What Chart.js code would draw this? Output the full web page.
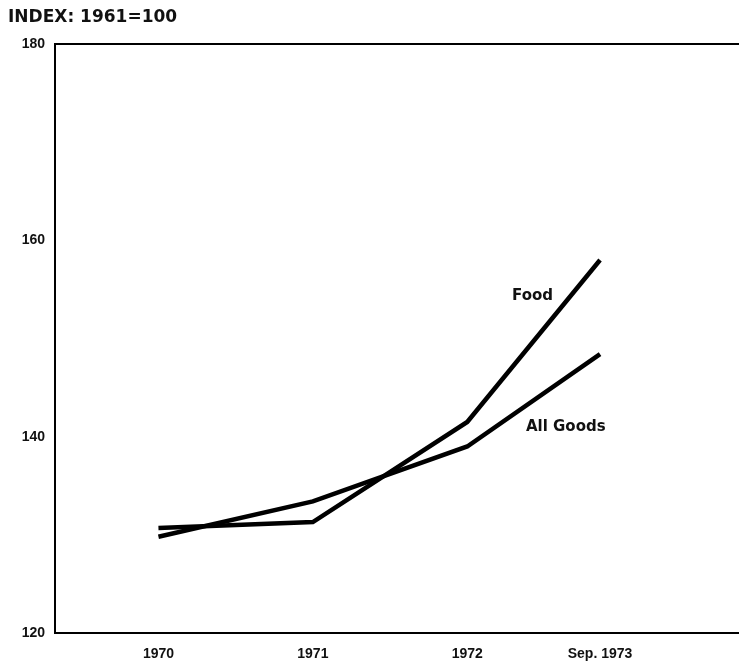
<!DOCTYPE html>
<html>
<head>
<meta charset="utf-8">
<script src="https://cdn.jsdelivr.net/npm/chart.js@4/dist/chart.umd.min.js"></script>
<style>
  html, body { margin: 0; padding: 0; background: #fff; }
  #wrap { width: 739px; height: 666px; position: relative; }
</style>
</head>
<body>
<div id="wrap"><canvas id="c" width="739" height="666"></canvas></div>
<script>
// x positions in years (Sep. 1973 sits short of a full year past 1972)
var xYears = [1970, 1971, 1972, 1972.86];
var xLabels = ['1970', '1971', '1972', 'Sep. 1973'];
var foodValues = [130.7, 131.3, 141.5, 158.0];
var allGoodsValues = [129.8, 133.4, 139.0, 148.4];
var yTicks = [120, 140, 160, 180];

function toPoints(vals) {
  return vals.map(function (v, i) { return { x: xYears[i], y: v }; });
}

// frame, title and series labels
var decor = {
  id: 'decor',
  afterDraw: function (chart) {
    var ctx = chart.ctx, a = chart.chartArea;
    var xs = chart.scales.x, ys = chart.scales.y;
    ctx.save();
    ctx.strokeStyle = '#000';
    ctx.lineWidth = 2;
    ctx.beginPath();
    ctx.moveTo(a.right, a.top);
    ctx.lineTo(a.left, a.top);
    ctx.lineTo(a.left, a.bottom);
    ctx.lineTo(a.right, a.bottom);
    ctx.stroke();

    ctx.fillStyle = '#111';
    ctx.textBaseline = 'middle';
    ctx.textAlign = 'left';
    ctx.font = 'bold 17px "DejaVu Sans", sans-serif';
    ctx.fillText('INDEX: 1961=100', 8, 18);

    ctx.font = 'bold 15px "DejaVu Sans", sans-serif';
    ctx.fillText('Food', xs.getPixelForValue(1972.29), ys.getPixelForValue(154.3));
    ctx.fillText('All Goods', xs.getPixelForValue(1972.38), ys.getPixelForValue(141.0));
    ctx.restore();
  }
};

new Chart(document.getElementById('c'), {
  type: 'line',
  data: {
    datasets: [
      { label: 'Food', data: toPoints(foodValues), borderColor: '#000', borderWidth: 4.5, pointRadius: 0, tension: 0 },
      { label: 'All Goods', data: toPoints(allGoodsValues), borderColor: '#000', borderWidth: 4.5, pointRadius: 0, tension: 0 }
    ]
  },
  options: {
    responsive: false,
    animation: false,
    layout: { padding: { top: 44, right: 0, left: 0, bottom: 0 } },
    plugins: { legend: { display: false }, tooltip: { enabled: false } },
    scales: {
      x: {
        type: 'linear',
        min: 1969.33,
        max: 1973.76,
        grid: { display: false, drawTicks: false },
        border: { display: false },
        afterBuildTicks: function (axis) {
          axis.ticks = xYears.map(function (v) { return { value: v }; });
        },
        afterFit: function (axis) { axis.height = 33; },
        ticks: {
          autoSkip: false,
          maxRotation: 0,
          padding: 13,
          color: '#111',
          font: { family: '"Liberation Sans Narrow", "Liberation Sans", sans-serif', size: 14, weight: 'bold' },
          callback: function (v) {
            var i = xYears.indexOf(v);
            return i >= 0 ? xLabels[i] : '';
          }
        }
      },
      y: {
        min: 120,
        max: 180,
        grid: { display: false, drawTicks: false },
        border: { display: false },
        afterBuildTicks: function (axis) {
          axis.ticks = yTicks.map(function (v) { return { value: v }; });
        },
        afterFit: function (axis) { axis.width = 55; },
        ticks: {
          padding: 10,
          color: '#111',
          font: { family: '"Liberation Sans", Arial, sans-serif', size: 14, weight: 'bold' }
        }
      }
    }
  },
  plugins: [decor]
});
</script>
</body>
</html>
